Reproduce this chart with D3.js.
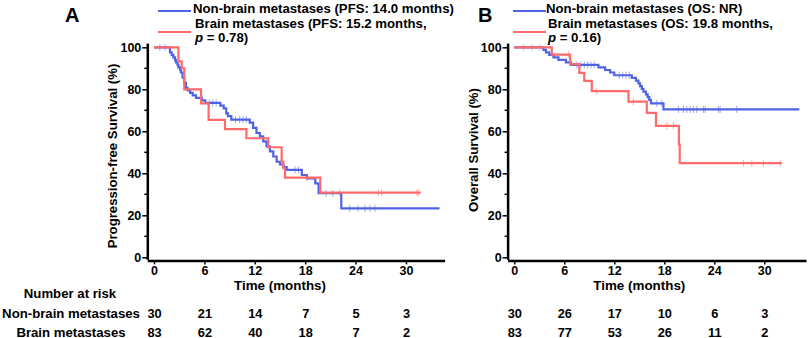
<!DOCTYPE html>
<html>
<head>
<meta charset="utf-8">
<script src="https://cdn.jsdelivr.net/npm/d3@7"></script>
<style>
  body { margin: 0; background: #fff; }
  svg { font-family: "Liberation Sans", Arial, sans-serif; font-weight: bold; }
</style>
</head>
<body>
<svg id="chart" width="809" height="338"></svg>
<script>
// ---- data ----
const monthTicks = [0, 6, 12, 18, 24, 30];
const pctTicks = [0, 20, 40, 60, 80, 100];
const pctMinor = [10, 30, 50, 70, 90];
const riskGroups = ["Non-brain metastases", "Brain metastases"];

// panel A: progression-free survival, [months, %] at each drop
const pfsNonBrain = [[0,100],[1.9,97.6],[2.1,96.4],[2.3,95.2],[2.5,94.0],[2.6,92.8],[2.8,91.6],[2.9,90.4],
  [3.1,89.2],[3.2,88.0],[3.4,85.5],[3.6,83.1],[3.8,80.7],[4.0,79.5],[4.3,78.3],[4.6,77.1],[5.0,75.9],
  [5.7,74.7],[6.1,73.5],[7.9,72.2],[8.3,70.9],[8.6,68.5],[8.8,67.2],[9.2,65.6],[11.4,64.1],[11.8,61.6],
  [12.2,59.2],[12.6,57.6],[13.0,55.2],[13.4,52.8],[13.8,50.4],[14.2,48.0],[14.6,45.5],[15.0,44.2],
  [15.4,43.0],[15.8,41.6],[17.6,39.2],[18.2,37.6],[19.2,35.2],[19.6,30.5],[22.3,23.3]];
const pfsNonBrainEnd = 34.0;
const pfsNonBrainCensor = [0.7, 1.3, 6.6, 7.0, 7.4, 9.7, 10.2, 10.6, 11.0, 16.8, 17.2, 20.5, 21.3,
  23.3, 24.3, 25.1, 25.7, 26.3];

const pfsBrain = [[0,100],[2.9,93.3],[3.3,90.0],[3.6,80.0],[5.6,73.3],[6.5,65.4],[8.45,61.0],[11.0,56.7],
  [13.6,52.4],[15.2,45.5],[15.4,42.4],[15.6,37.9],[19.8,30.8]];
const pfsBrainEnd = 31.75;
const pfsBrainCensor = [18.2, 22.1, 26.7, 27.1, 31.3, 31.5];

const pfsRisk = [[30, 21, 14, 7, 5, 3], [83, 62, 40, 18, 7, 2]];

// panel B: overall survival
const osNonBrain = [[0,100],[3.5,98.8],[3.8,97.6],[4.2,96.4],[4.7,95.2],[5.3,94.0],[6.2,92.8],[6.8,91.6],
  [10.1,90.4],[10.9,89.2],[11.5,88.0],[12.0,86.7],[14.1,85.4],[14.6,84.1],[14.9,82.8],[15.1,81.5],
  [15.3,80.2],[15.5,78.9],[15.8,77.6],[16.0,76.3],[16.2,75.0],[16.4,73.3],[17.9,70.4]];
const osNonBrainEnd = 34.2;
const osNonBrainCensor = [7.5, 8.0, 8.4, 8.8, 9.2, 9.6, 12.6, 13.0, 13.4, 13.8, 17.1, 17.7, 19.7, 20.3,
  20.7, 21.1, 21.5, 21.9, 22.7, 22.9, 24.5, 24.7, 26.7];

const osBrain = [[0,100],[4.5,96.5],[6.7,92.0],[7.8,87.8],[8.4,84.0],[9.3,79.1],[13.7,74.1],[15.9,68.8],
  [17.0,62.6],[19.75,53.7],[19.85,44.8]];
const osBrainEnd = 32.1;
const osBrainCensor = [1.1, 2.1, 3.1, 6.5, 9.9, 14.3, 18.3, 19.1, 27.5, 28.5, 29.9, 31.9];

const osRisk = [[30, 26, 17, 10, 6, 3], [83, 77, 53, 26, 11, 2]];

// ---- drawing ----
const blue = "#4f63e6", red = "#ff6a6a";
const svg = d3.select("#chart");

const panels = [
  {letter: "A", letterX: 65, yTitle: "Progression-free Survival (%)", yTitleX: 117, yTitleY: 156,
   xRange: [147.3, 444.6], xDomain: [-0.8, 34.6],
   legendX: 158, legendTextX: 193,
   legend: [["Non-brain metastases (PFS: 14.0 months)"], ["Brain metastases (PFS: 15.2 months,", "= 0.78)"]],
   curves: [[pfsNonBrain, pfsNonBrainEnd, pfsNonBrainCensor, blue], [pfsBrain, pfsBrainEnd, pfsBrainCensor, red]],
   risk: pfsRisk, showRiskLabels: true},
  {letter: "B", letterX: 478, yTitle: "Overall Survival (%)", yTitleX: 478, yTitleY: 150,
   xRange: [507.6, 806], xDomain: [-0.8, 35],
   legendX: 513, legendTextX: 546,
   legend: [["Non-brain metastases (OS: NR)"], ["Brain metastases (OS: 19.8 months,", "= 0.16)"]],
   curves: [[osNonBrain, osNonBrainEnd, osNonBrainCensor, blue], [osBrain, osBrainEnd, osBrainCensor, red]],
   risk: osRisk, showRiskLabels: false}
];

const y = d3.scaleLinear().domain([-1, 102]).range([259.4, 43.1]);

panels.forEach(p => {
  const x = d3.scaleLinear().domain(p.xDomain).range(p.xRange);
  const g = svg.append("g");

  // curves
  const line = d3.line().x(d => x(d[0])).y(d => y(d[1])).curve(d3.curveStepAfter);
  p.curves.forEach(([pts, end, cens, col]) => {
    const all = pts.concat([[end, pts[pts.length - 1][1]]]);
    g.append("path").attr("d", line(all))
      .attr("fill", "none").attr("stroke", col).attr("stroke-width", 2.2);
    const bis = d3.bisector(d => d[0]).right;
    g.selectAll(null).data(cens).enter().append("line")
      .attr("x1", t => x(t)).attr("x2", t => x(t))
      .attr("y1", t => y(pts[bis(pts, t) - 1][1]) - 3.5)
      .attr("y2", t => y(pts[bis(pts, t) - 1][1]) + 3.5)
      .attr("stroke", col).attr("stroke-opacity", 0.55).attr("stroke-width", 1);
  });

  // axes
  const xAxis = g.append("g").attr("transform", `translate(0,${y(-1) + 1})`)
    .call(d3.axisBottom(x).tickValues(monthTicks).tickSize(4).tickSizeOuter(0).tickPadding(2));
  const yAxis = g.append("g").attr("transform", `translate(${p.xRange[0]},0)`)
    .call(d3.axisLeft(y).tickValues(pctTicks).tickSize(5).tickSizeOuter(0).tickPadding(1));
  yAxis.selectAll(null).data(pctMinor).enter().append("line")
    .attr("x1", -3).attr("x2", 0).attr("y1", d => y(d)).attr("y2", d => y(d))
    .attr("stroke", "#000").attr("stroke-width", 1.5);
  [xAxis, yAxis].forEach(a => {
    a.select(".domain").attr("stroke-width", 2.5);
    a.selectAll(".tick line").attr("stroke-width", 1.5);
    a.selectAll("text").attr("font-size", 12.5).attr("font-weight", "bold")
      .attr("font-family", "Liberation Sans, Arial, sans-serif").attr("fill", "#000");
  });

  // titles
  g.append("text").attr("x", x(15)).attr("y", 290).attr("text-anchor", "middle")
    .attr("font-size", 13.4).text("Time (months)");
  g.append("text").attr("transform", `translate(${p.yTitleX},${p.yTitleY}) rotate(-90)`)
    .attr("text-anchor", "middle").attr("font-size", 13.2).text(p.yTitle);
  g.append("text").attr("x", p.letterX).attr("y", 22).attr("font-size", 20).text(p.letter);

  // legend
  [blue, red].forEach((col, i) => {
    const ly = i === 0 ? 11 : 32;
    g.append("line").attr("x1", p.legendX).attr("x2", p.legendX + 33)
      .attr("y1", ly).attr("y2", ly).attr("stroke", col).attr("stroke-width", 2);
  });
  g.append("text").attr("x", p.legendTextX).attr("y", 13.3).attr("font-size", 13.2).text(p.legend[0][0]);
  const dx = p.legendTextX + 2;
  g.append("text").attr("x", dx).attr("y", 27.5).attr("font-size", 13.2).text(p.legend[1][0]);
  const t3 = g.append("text").attr("x", dx).attr("y", 42).attr("font-size", 13.2);
  t3.append("tspan").attr("font-style", "italic").text("p");
  t3.append("tspan").text(" " + p.legend[1][1]);

  // number at risk table
  if (p.showRiskLabels) {
    g.append("text").attr("x", 70).attr("y", 297.5).attr("text-anchor", "middle")
      .attr("font-size", 13.2).text("Number at risk");
  }
  p.risk.forEach((row, i) => {
    const ry = i === 0 ? 318 : 336.5;
    if (p.showRiskLabels) {
      g.append("text").attr("x", 71).attr("y", ry).attr("text-anchor", "middle")
        .attr("font-size", 13.2).text(riskGroups[i]);
    }
    g.selectAll(null).data(row).enter().append("text")
      .attr("x", (d, j) => x(monthTicks[j]) + 0.5).attr("y", ry)
      .attr("text-anchor", "middle").attr("font-size", 12.8).text(d => d);
  });
});
</script>
</body>
</html>
